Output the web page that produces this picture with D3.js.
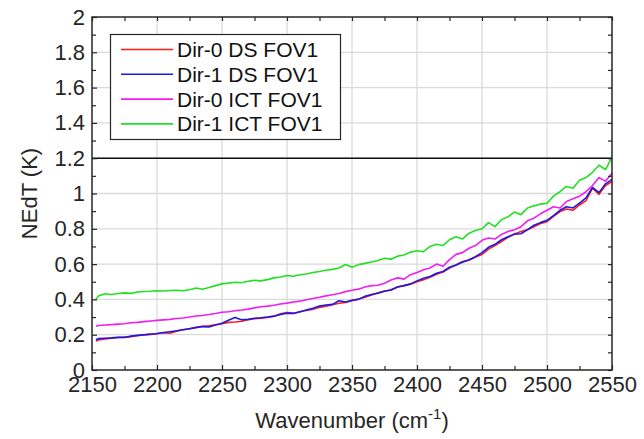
<!DOCTYPE html>
<html>
<head>
<meta charset="utf-8">
<script src="https://cdn.jsdelivr.net/npm/d3@7"></script>
<style>
  html, body { margin: 0; padding: 0; background: #fff; }
  svg { display: block; font-family: "Liberation Sans", Arial, Helvetica, sans-serif; }
</style>
</head>
<body>
<svg id="chart" width="644" height="439"></svg>
<script>
// Spectral grid (cm^-1)
const wavenumber = [2153, ...d3.range(2155, 2551, 5)];

// NEdT (K) per spectral channel
const dir0DS = [
  0.165,0.170,0.176,0.180,0.184,0.186,0.188,0.195,0.199,0.202,
  0.205,0.211,0.208,0.220,0.228,0.234,0.242,0.247,0.250,0.256,
  0.262,0.270,0.272,0.276,0.285,0.290,0.294,0.298,0.305,0.318,
  0.325,0.322,0.330,0.338,0.345,0.355,0.362,0.370,0.378,0.382,
  0.393,0.402,0.412,0.425,0.438,0.448,0.452,0.470,0.478,0.486,
  0.500,0.512,0.525,0.542,0.555,0.578,0.595,0.615,0.622,0.640,
  0.655,0.685,0.705,0.728,0.752,0.770,0.785,0.795,0.812,0.830,
  0.840,0.870,0.898,0.912,0.905,0.935,0.960,1.030,0.995,1.045,
  1.068
];
const dir1DS = [
  0.172,0.178,0.180,0.182,0.185,0.184,0.192,0.196,0.200,0.203,
  0.207,0.212,0.217,0.222,0.228,0.234,0.240,0.246,0.244,0.255,
  0.265,0.282,0.298,0.285,0.287,0.293,0.296,0.300,0.305,0.315,
  0.322,0.320,0.330,0.340,0.350,0.362,0.368,0.372,0.392,0.385,
  0.395,0.400,0.418,0.428,0.435,0.446,0.455,0.470,0.478,0.488,
  0.505,0.520,0.530,0.548,0.558,0.582,0.595,0.610,0.625,0.642,
  0.665,0.695,0.712,0.738,0.755,0.770,0.772,0.795,0.820,0.835,
  0.848,0.875,0.905,0.925,0.918,0.945,0.975,1.035,1.005,1.055,
  1.080
];
const dir0ICT = [
  0.248,0.252,0.255,0.257,0.260,0.262,0.268,0.270,0.274,0.278,
  0.281,0.284,0.287,0.292,0.295,0.300,0.306,0.309,0.314,0.320,
  0.327,0.330,0.336,0.340,0.345,0.352,0.358,0.362,0.367,0.374,
  0.379,0.385,0.390,0.398,0.405,0.412,0.420,0.426,0.433,0.444,
  0.452,0.458,0.470,0.478,0.480,0.492,0.510,0.522,0.515,0.540,
  0.552,0.568,0.578,0.600,0.588,0.625,0.655,0.665,0.690,0.705,
  0.735,0.748,0.742,0.768,0.785,0.795,0.812,0.845,0.860,0.885,
  0.905,0.925,0.918,0.955,0.970,0.985,1.010,1.045,1.090,1.070,
  1.115
];
const dir1ICT = [
  0.400,0.420,0.432,0.428,0.433,0.437,0.434,0.442,0.445,0.446,
  0.449,0.448,0.450,0.451,0.449,0.455,0.465,0.458,0.468,0.478,
  0.488,0.492,0.497,0.494,0.503,0.508,0.505,0.512,0.522,0.527,
  0.535,0.531,0.540,0.544,0.552,0.558,0.565,0.570,0.578,0.598,
  0.582,0.597,0.604,0.612,0.620,0.633,0.628,0.645,0.652,0.668,
  0.676,0.670,0.700,0.712,0.705,0.738,0.755,0.742,0.775,0.790,
  0.800,0.835,0.812,0.852,0.868,0.895,0.880,0.918,0.930,0.940,
  0.945,0.985,1.010,1.040,1.030,1.075,1.090,1.120,1.160,1.135,
  1.205
];

const seriesNames = ["Dir-0 DS FOV1", "Dir-1 DS FOV1", "Dir-0 ICT FOV1", "Dir-1 ICT FOV1"];
const seriesValues = [dir0DS, dir1DS, dir0ICT, dir1ICT];
const seriesColors = ["#ff1a1a", "#1a1ae8", "#f01ef0", "#22e022"];

const xTicks = [2150, 2200, 2250, 2300, 2350, 2400, 2450, 2500, 2550];
const xMinorTicks = [2175, 2225, 2275, 2325, 2375, 2425, 2475, 2525];
const yTicks = [0, 0.2, 0.4, 0.6, 0.8, 1, 1.2, 1.4, 1.6, 1.8, 2];
const yTickLabels = ["0", "0.2", "0.4", "0.6", "0.8", "1", "1.2", "1.4", "1.6", "1.8", "2"];
const yMinorTicks = [0.1, 0.3, 0.5, 0.7, 0.9, 1.1, 1.3, 1.5, 1.7, 1.9];
const thresholdNEdT = 1.2;

const ink = "#262626";
const plot = { left: 92, right: 612, top: 17, bottom: 370 };

const svg = d3.select("#chart");
svg.append("rect").attr("width", 644).attr("height", 439).attr("fill", "#fff");

const x = d3.scaleLinear().domain([2150, 2550]).range([plot.left, plot.right]);
const y = d3.scaleLinear().domain([0, 2]).range([plot.bottom, plot.top]);

// Grid
const grid = svg.append("g").attr("stroke", "#dadada").attr("stroke-width", 1.3);
grid.selectAll("line.gx").data(xTicks.slice(1, -1)).join("line")
  .attr("x1", d => x(d)).attr("x2", d => x(d))
  .attr("y1", plot.top).attr("y2", plot.bottom);
grid.selectAll("line.gy").data(yTicks.slice(1, -1)).join("line")
  .attr("y1", d => y(d)).attr("y2", d => y(d))
  .attr("x1", plot.left).attr("x2", plot.right);

// Series
const line = d3.line().x((d, i) => x(wavenumber[i])).y(d => y(d));
svg.append("g").selectAll("path").data(seriesValues).join("path")
  .attr("d", line)
  .attr("fill", "none")
  .attr("stroke", (d, i) => seriesColors[i])
  .attr("stroke-width", 1.6)
  .attr("stroke-linejoin", "round");

// Threshold line
svg.append("line")
  .attr("x1", plot.left).attr("x2", plot.right)
  .attr("y1", y(thresholdNEdT)).attr("y2", y(thresholdNEdT))
  .attr("stroke", "#111").attr("stroke-width", 1.6);

// Axes (ticks pointing inward on all four sides)
function styleAxis(g) {
  g.select(".domain").remove();
  g.selectAll(".tick line").attr("stroke", ink).attr("stroke-width", 1.2);
  g.selectAll(".tick text").attr("fill", ink).attr("font-size", 22);
}

svg.append("g").attr("transform", `translate(0,${plot.bottom})`)
  .call(d3.axisBottom(x).tickValues(xTicks).tickFormat(d3.format("d")).tickSizeInner(-5).tickSizeOuter(0).tickPadding(6))
  .call(styleAxis);
svg.append("g").attr("transform", `translate(0,${plot.bottom})`)
  .call(d3.axisBottom(x).tickValues(xMinorTicks).tickFormat("").tickSizeInner(-4).tickSizeOuter(0))
  .call(styleAxis);
svg.append("g").attr("transform", `translate(0,${plot.top})`)
  .call(d3.axisTop(x).tickValues(xTicks.concat(xMinorTicks)).tickFormat("").tickSizeInner(-4).tickSizeOuter(0))
  .call(styleAxis);

svg.append("g").attr("transform", `translate(${plot.left},0)`)
  .call(d3.axisLeft(y).tickValues(yTicks).tickFormat((d, i) => yTickLabels[i]).tickSizeInner(-5).tickSizeOuter(0).tickPadding(7))
  .call(styleAxis);
svg.append("g").attr("transform", `translate(${plot.left},0)`)
  .call(d3.axisLeft(y).tickValues(yMinorTicks).tickFormat("").tickSizeInner(-4).tickSizeOuter(0))
  .call(styleAxis);
svg.append("g").attr("transform", `translate(${plot.right},0)`)
  .call(d3.axisRight(y).tickValues(yTicks.concat(yMinorTicks)).tickFormat("").tickSizeInner(-4).tickSizeOuter(0))
  .call(styleAxis);

// Axes box
svg.append("rect")
  .attr("x", plot.left).attr("y", plot.top)
  .attr("width", plot.right - plot.left).attr("height", plot.bottom - plot.top)
  .attr("fill", "none").attr("stroke", ink).attr("stroke-width", 1.5);

// Axis titles
const xTitle = svg.append("text")
  .attr("x", 352).attr("y", 428)
  .attr("text-anchor", "middle").attr("fill", ink).attr("font-size", 22);
xTitle.append("tspan").text("Wavenumber (cm");
xTitle.append("tspan").attr("font-size", 15).attr("dy", -9).text("-1");
xTitle.append("tspan").attr("dy", 9).text(")");

svg.append("text")
  .attr("transform", `translate(37,${(plot.top + plot.bottom) / 2}) rotate(-90)`)
  .attr("text-anchor", "middle").attr("fill", ink).attr("font-size", 22)
  .text("NEdT (K)");

// Legend
const legend = svg.append("g");
legend.append("rect")
  .attr("x", 110.5).attr("y", 34.5).attr("width", 230).attr("height", 105)
  .attr("fill", "#fff").attr("stroke", ink).attr("stroke-width", 1.2);
const rows = legend.selectAll("g.row").data(seriesNames).join("g")
  .attr("transform", (d, i) => `translate(0,${49.5 + i * 24.8})`);
rows.append("line")
  .attr("x1", 121).attr("x2", 173)
  .attr("stroke", (d, i) => seriesColors[i]).attr("stroke-width", 1.6);
rows.append("text")
  .attr("x", 177).attr("dy", "0.36em")
  .attr("fill", "#111").attr("font-size", 21)
  .text(d => d);
</script>
</body>
</html>
